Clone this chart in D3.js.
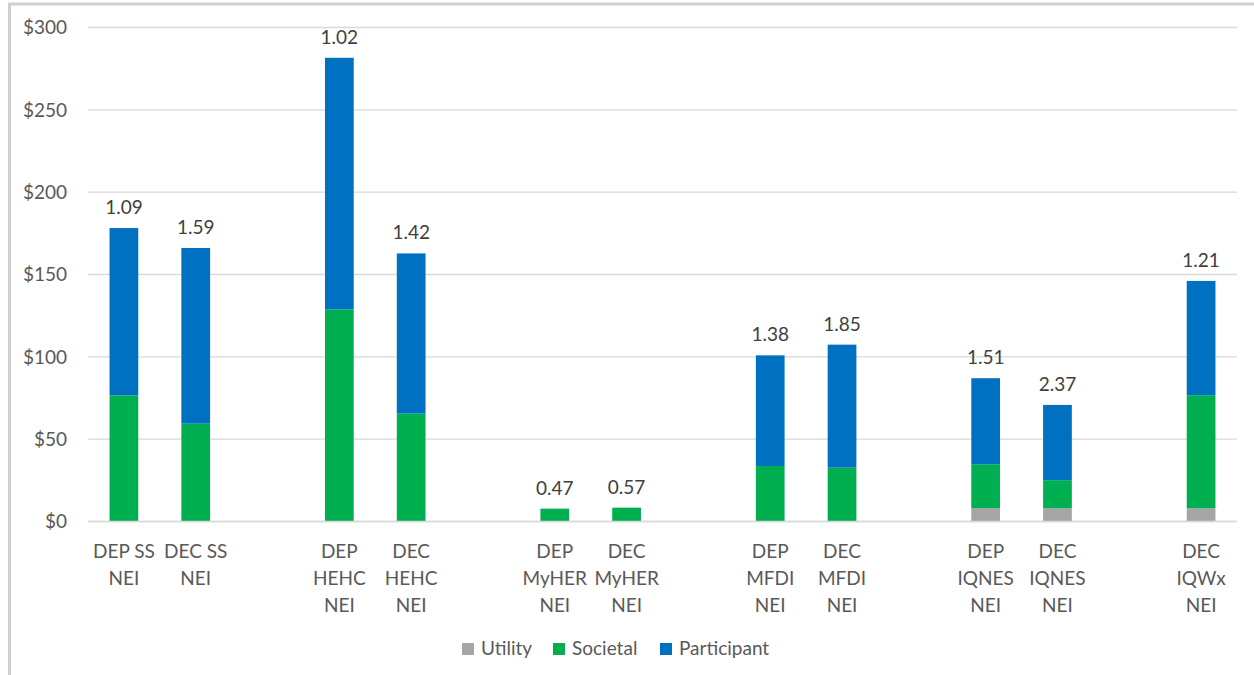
<!DOCTYPE html>
<html>
<head>
<meta charset="utf-8">
<script src="https://cdn.jsdelivr.net/npm/d3@7"></script>
<style>
  html, body { margin: 0; padding: 0; background: #fff; }
  svg { display: block; }
  text { font-family: Lato, "Open Sans", sans-serif; }
</style>
</head>
<body>
<svg id="chart" width="1254" height="675"></svg>
<script>
// Program categories (empty strings are spacer slots between program groups)
const categories = [
  "DEP SS\nNEI", "DEC SS\nNEI", "",
  "DEP\nHEHC\nNEI", "DEC\nHEHC\nNEI", "",
  "DEP\nMyHER\nNEI", "DEC\nMyHER\nNEI", "",
  "DEP\nMFDI\nNEI", "DEC\nMFDI\nNEI", "",
  "DEP\nIQNES\nNEI", "DEC\nIQNES\nNEI", "",
  "DEC\nIQWx\nNEI"
];

// NEI value by perspective ($)
const utility     = [0, 0, null, 0, 0, null, 0, 0, null, 0, 0, null, 7.8, 7.8, null, 7.8];
const societal    = [76.3, 59.1, null, 128.5, 65.2, null, 7.5, 8.1, null, 33.4, 32.4, null, 26.7, 17.0, null, 68.6];
const participant = [101.6, 106.7, null, 152.8, 97.3, null, 0, 0, null, 67.2, 74.7, null, 52.2, 45.7, null, 69.4];

// Ratio shown above each bar
const ratios = ["1.09", "1.59", null, "1.02", "1.42", null, "0.47", "0.57", null, "1.38", "1.85", null, "1.51", "2.37", null, "1.21"];

const seriesNames = ["Utility", "Societal", "Participant"];
const seriesColors = ["#A5A5A5", "#00B050", "#0070C0"];
const yTicks = [0, 50, 100, 150, 200, 250, 300];

const svg = d3.select("#chart");
const margin = { left: 88, right: 17, top: 27, bottom: 154 };
const W = 1254, H = 675;
const plotW = W - margin.left - margin.right;
const plotH = H - margin.top - margin.bottom;

// Outer chart frame
svg.append("rect")
  .attr("x", 9.5).attr("y", 4)
  .attr("width", W + 10).attr("height", H + 10)
  .attr("fill", "none")
  .attr("stroke", "#D0D0D0")
  .attr("stroke-width", 3);

const g = svg.append("g").attr("transform", `translate(${margin.left},${margin.top})`);

const x = d3.scaleBand()
  .domain(d3.range(categories.length))
  .range([0, plotW])
  .paddingInner(0.6)
  .paddingOuter(0.3);

const y = d3.scaleLinear().domain([0, 300]).range([plotH, 0]);

// Gridlines and value axis labels
const yAxis = d3.axisLeft(y)
  .tickValues(yTicks)
  .tickSize(-plotW)
  .tickPadding(21)
  .tickFormat(d => "$" + d);
const ya = g.append("g").call(yAxis);
ya.select(".domain").remove();
ya.selectAll(".tick line").attr("stroke", "#D9D9D9").attr("stroke-width", 1.3);
ya.selectAll(".tick text")
  .attr("fill", "#595959")
  .attr("font-size", 19)
  .attr("dy", "0.36em")
  .style("font-family", "Lato, sans-serif");

// Stacked series
const rows = categories.map((c, i) => ({
  i,
  Utility: utility[i] || 0,
  Societal: societal[i] || 0,
  Participant: participant[i] || 0
}));
const stacked = d3.stack().keys(seriesNames)(rows);

g.selectAll("g.series")
  .data(stacked)
  .join("g")
  .attr("class", "series")
  .attr("fill", (d, k) => seriesColors[k])
  .selectAll("rect")
  .data(d => d.filter(p => categories[p.data.i] !== "" && p[1] > p[0]))
  .join("rect")
  .attr("x", d => x(d.data.i))
  .attr("width", x.bandwidth())
  .attr("y", d => y(d[1]))
  .attr("height", d => y(d[0]) - y(d[1]));

// Ratio labels above each stack
g.selectAll("text.ratio")
  .data(rows.filter(r => ratios[r.i] !== null))
  .join("text")
  .attr("class", "ratio")
  .attr("x", d => x(d.i) + x.bandwidth() / 2)
  .attr("y", d => y(d.Utility + d.Societal + d.Participant) - 14)
  .attr("text-anchor", "middle")
  .attr("fill", "#404040")
  .attr("font-size", 19)
  .text(d => ratios[d.i]);

// Category axis
const xAxis = d3.axisBottom(x).tickSize(0).tickFormat("");
const xa = g.append("g").attr("transform", `translate(0,${plotH})`).call(xAxis);
xa.select(".domain")
  .attr("d", `M0,0.5H${plotW}`)
  .attr("stroke", "#D9D9D9")
  .attr("stroke-width", 1.3);

const catLabels = g.append("g").attr("transform", `translate(0,${plotH})`);
categories.forEach((c, i) => {
  if (!c) return;
  const t = catLabels.append("text")
    .attr("text-anchor", "middle")
    .attr("fill", "#595959")
    .attr("font-size", 19);
  c.split("\n").forEach((line, k) => {
    t.append("tspan")
      .attr("x", x(i) + x.bandwidth() / 2)
      .attr("y", 37 + k * 27)
      .text(line);
  });
});

// Legend
const legendItems = [
  { name: seriesNames[0], color: seriesColors[0], x: 462 },
  { name: seriesNames[1], color: seriesColors[1], x: 553 },
  { name: seriesNames[2], color: seriesColors[2], x: 660 }
];
const lg = svg.append("g");
legendItems.forEach(it => {
  lg.append("rect")
    .attr("x", it.x).attr("y", 643)
    .attr("width", 12).attr("height", 12)
    .attr("fill", it.color);
  lg.append("text")
    .attr("x", it.x + 19).attr("y", 655)
    .attr("fill", "#595959")
    .attr("font-size", 19)
    .text(it.name);
});
</script>
</body>
</html>
